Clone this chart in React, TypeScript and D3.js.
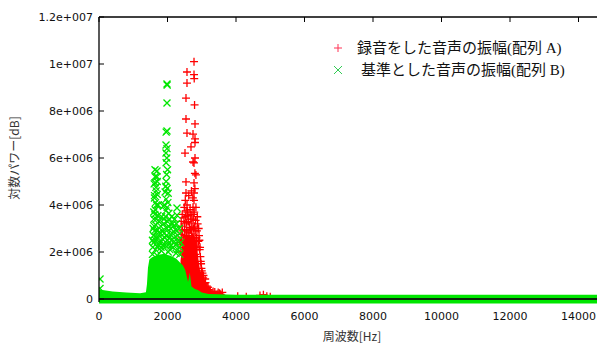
import * as d3 from "d3";

// --- data ---
const xTicks = [0, 2000, 4000, 6000, 8000, 10000, 12000, 14000];
const yTicks = [0, 2e6, 4e6, 6e6, 8e6, 1e7, 1.2e7];
const yTickLabels = ["0", "2e+006", "4e+006", "6e+006", "8e+006", "1e+007", "1.2e+007"];

const seriesNames = ["録音をした音声の振幅(配列 A)", "基準とした音声の振幅(配列 B)"];

// dense core of array A, where the + markers overlap into a solid mass
const denseA: [number, number][] = [
  [2370, 0], [2380, 1.5e6], [2420, 2.0e6], [2480, 2.4e6], [2560, 2.6e6], [2650, 2.5e6],
  [2750, 2.7e6], [2850, 2.3e6], [2900, 1.6e6], [2950, 1.1e6], [3050, 8e5], [3150, 4.5e5],
  [3250, 2.5e5], [3400, 1.3e5], [3600, 6e4], [3650, 0],
];

// dense core of array B (incl. the low floor running over the whole range)
const denseB: [number, number][] = [
  [0, 2.8e5], [150, 2.4e5], [400, 1.9e5], [800, 1.5e5], [1200, 1.2e5], [1370, 1.6e5],
  [1400, 5e5], [1430, 1.2e6], [1470, 1.55e6], [1550, 1.65e6], [1700, 1.75e6], [1900, 1.8e6],
  [2100, 1.7e6], [2250, 1.6e6], [2350, 1.45e6], [2450, 1.3e6], [2520, 1.1e6], [2600, 6e5],
  [2650, 1.0e6], [2700, 4e5], [2800, 3e5], [2900, 2.5e5], [3000, 1.5e5], [3200, 8e4],
  [4000, 5e4], [16000, 5e4],
];

const pointsA: [number, number][] = [
  [2774, 1.01e7], [2569, 9.66e6], [2774, 9.55e6], [2780, 9.38e6], [2569, 9.19e6], [2540, 8.55e6],
  [2790, 8.26e6], [2540, 7.66e6], [2803, 7.45e6], [2569, 7.06e6], [2745, 7.02e6], [2803, 6.81e6],
  [2803, 6.66e6], [2686, 6.47e6], [2511, 6.21e6], [2803, 6.0e6], [2745, 5.83e6], [2774, 5.79e6],
  [2800, 5.35e6], [2830, 5.28e6], [2540, 4.98e6], [2774, 4.94e6], [2540, 4.51e6], [2774, 4.51e6],
  [2774, 4.2e6], [2745, 3.9e6], [2540, 3.75e6], [2745, 3.6e6], [2600, 3.55e6], [2480, 3.45e6],
  [2680, 3.4e6], [2820, 3.35e6], [2560, 3.25e6], [2880, 3.2e6], [2420, 3.1e6], [2640, 3.05e6],
  [2760, 3.0e6], [2500, 2.95e6], [2860, 2.9e6], [2600, 2.85e6], [2700, 2.8e6], [2400, 2.75e6],
  [2920, 2.7e6], [2550, 2.65e6], [2800, 2.6e6], [2460, 2.5e6], [2650, 2.5e6], [2900, 2.45e6],
  [2380, 2.4e6], [2720, 2.35e6], [2580, 2.3e6], [2840, 2.25e6], [2470, 2.2e6], [2940, 2.1e6],
  [2680, 2.1e6], [2960, 1.8e6], [2980, 1.5e6], [3000, 1.2e6], [3050, 1.0e6], [3100, 8.5e5],
  [3080, 6.5e5], [3150, 5.5e5], [3200, 4e5], [3250, 3.2e5], [3300, 2.5e5], [3380, 3e5],
  [3450, 2e5], [3520, 2.5e5], [3580, 1.5e5], [4050, 1.2e5], [4300, 1e5], [4700, 1.5e5],
  [4800, 1.8e5], [4900, 1.2e5], [5000, 1e5],
  [2390, 2.0e6], [2400, 3.3e6], [2410, 2.6e6], [2430, 3.6e6], [2440, 2.9e6], [2450, 2.3e6],
  [2490, 3.9e6], [2500, 3.2e6], [2510, 2.7e6], [2520, 4.2e6], [2530, 3.5e6], [2560, 2.9e6],
  [2570, 4.0e6], [2580, 3.7e6], [2590, 2.5e6], [2610, 3.3e6], [2620, 4.4e6], [2630, 2.7e6],
  [2660, 3.8e6], [2670, 2.95e6], [2690, 3.6e6], [2700, 4.6e6], [2710, 3.2e6], [2730, 2.6e6],
  [2740, 4.3e6], [2750, 3.4e6], [2760, 2.4e6], [2780, 3.7e6], [2790, 3.1e6], [2800, 4.7e6],
  [2810, 2.9e6], [2830, 3.9e6], [2850, 2.6e6], [2870, 3.5e6], [2890, 2.2e6], [2910, 3.0e6],
  [2930, 2.5e6], [2950, 2.2e6], [2970, 1.6e6], [2990, 1.3e6], [3020, 1.1e6], [3040, 9e5],
  [3110, 7e5], [3130, 4.5e5], [3180, 5e5], [3220, 3e5], [3270, 2.2e5], [3330, 3.2e5],
  [3400, 1.8e5], [3480, 2.8e5], [3550, 2e5], [3600, 2.8e5], [2620, 1.9e6], [2720, 1.95e6],
  [2820, 1.9e6],
];

const pointsB: [number, number][] = [
  [1985, 9.15e6], [1990, 9.1e6], [1985, 8.34e6], [1985, 7.15e6], [1960, 7.1e6], [1956, 6.55e6],
  [1985, 6.4e6], [1956, 6.21e6], [1635, 5.5e6], [1693, 5.45e6], [1640, 5.2e6], [1700, 5.0e6],
  [1960, 5.0e6], [1610, 4.9e6], [1660, 4.75e6], [1990, 4.7e6], [1930, 4.55e6], [1700, 4.45e6],
  [1620, 4.3e6], [1960, 4.25e6], [2010, 4.1e6], [1680, 4.0e6], [1880, 3.95e6], [2277, 3.87e6],
  [1640, 3.8e6], [1950, 3.75e6], [2040, 3.65e6], [2277, 3.57e6], [1720, 3.55e6], [1600, 3.4e6],
  [1900, 3.4e6], [2000, 3.3e6], [2150, 3.2e6], [1660, 3.15e6], [1800, 3.1e6], [1980, 3.0e6],
  [2230, 2.95e6], [1620, 2.9e6], [1760, 2.85e6], [1900, 2.8e6], [2080, 2.75e6], [2300, 2.7e6],
  [1680, 2.6e6], [1850, 2.55e6], [2000, 2.5e6], [2200, 2.45e6], [1600, 2.4e6], [1740, 2.3e6],
  [1930, 2.3e6], [2100, 2.25e6], [2350, 2.2e6], [1650, 2.1e6], [1820, 2.05e6], [2020, 2.0e6],
  [2250, 1.95e6], [1560, 1.9e6], [1700, 1.85e6], [30, 8.5e5], [30, 4.5e5],
  [1570, 2.2e6], [1590, 2.7e6], [1610, 3.1e6], [1630, 3.6e6], [1650, 4.1e6], [1670, 4.6e6],
  [1690, 5.2e6], [1560, 2.5e6], [1580, 3.0e6], [1600, 3.7e6], [1620, 4.4e6], [1640, 4.95e6],
  [1710, 2.2e6], [1730, 2.6e6], [1750, 3.3e6], [1770, 2.4e6], [1790, 2.8e6], [1810, 2.2e6],
  [1830, 3.5e6], [1850, 2.9e6], [1870, 2.3e6], [1890, 3.2e6], [1910, 4.0e6], [1920, 2.6e6],
  [1940, 3.5e6], [1950, 4.8e6], [1970, 2.7e6], [1975, 5.3e6], [1990, 3.9e6], [2000, 5.5e6],
  [2010, 2.3e6], [2020, 4.5e6], [2030, 3.1e6], [2050, 2.6e6], [2060, 3.4e6], [2070, 2.1e6],
  [2090, 3.0e6], [2110, 2.5e6], [2120, 3.5e6], [2140, 2.8e6], [2160, 2.2e6], [2180, 3.1e6],
  [2190, 2.6e6], [2210, 3.4e6], [2240, 2.3e6], [2260, 3.2e6], [2280, 2.9e6], [2300, 2.1e6],
  [2320, 2.5e6], [2340, 3.0e6], [2360, 1.9e6], [2380, 2.4e6], [1670, 3.4e6], [1690, 2.9e6],
  [1650, 2.5e6], [1725, 4.0e6], [1960, 5.8e6], [1980, 6.0e6],
];

const RED = "#ff0000";
const GREEN = "#00e600";

const plusPath = "M-4,0H4M0,-4V4";
const crossPath = "M-3.5,-3.5L3.5,3.5M-3.5,3.5L3.5,-3.5";

export default function App() {
  const W = 597;
  const H = 345;
  const left = 99;
  const top = 17;
  const bottom = 299;

  const x = d3.scaleLinear().domain([0, 16000]).range([left, left + 16000 * 0.03425]);
  const y = d3.scaleLinear().domain([0, 1.2e7]).range([bottom, top]);

  const areaA = d3
    .area<[number, number]>()
    .x((d) => x(d[0]))
    .y0(y(0))
    .y1((d) => y(d[1]) - 3);
  const areaB = d3
    .area<[number, number]>()
    .x((d) => x(d[0]))
    .y0(y(0) + 4.5)
    .y1((d) => y(d[1]) - 3);

  const tickFont = { fontFamily: "'DejaVu Sans', sans-serif", fontSize: 11, fill: "#111" };
  const legendFont = { fontFamily: "'Liberation Serif', 'Noto Sans CJK JP', serif", fontSize: 15, fill: "#111" };
  const labelFont = { fontFamily: "'Noto Sans CJK JP', sans-serif", fontSize: 12, fill: "#333" };

  return (
    <svg width={W} height={H} style={{ position: "absolute", left: 0, top: 0, background: "#fff" }}>
      <defs>
        <clipPath id="plot">
          <rect x={left} y={top} width={W - left} height={bottom - top + 6} />
        </clipPath>
      </defs>

      <g clipPath="url(#plot)">
        <path d={areaA(denseA) ?? ""} fill={RED} />
        <g stroke={RED} strokeWidth={1.3} fill="none">
          {pointsA.map((d, i) => (
            <path key={i} d={plusPath} transform={`translate(${x(d[0])},${y(d[1])})`} />
          ))}
        </g>
        <path d={areaB(denseB) ?? ""} fill={GREEN} />
        <g stroke={GREEN} strokeWidth={1.3} fill="none">
          {pointsB.map((d, i) => (
            <path key={i} d={crossPath} transform={`translate(${x(d[0])},${y(d[1])})`} />
          ))}
        </g>
        <line x1={left} x2={W} y1={y(0)} y2={y(0)} stroke="#0b2a0b" strokeWidth={2} />
      </g>

      {/* border */}
      <line x1={left} x2={left} y1={top} y2={y(0) + 3} stroke="#000" strokeWidth={1.3} />
      <line x1={left} x2={W} y1={top} y2={top} stroke="#000" strokeWidth={1.3} />

      {/* y axis */}
      {yTicks.map((t, i) => (
        <g key={t}>
          <line x1={left} x2={left + 5} y1={y(t)} y2={y(t)} stroke="#000" />
          <text x={left - 6} y={y(t)} dy="0.35em" textAnchor="end" {...tickFont}>
            {yTickLabels[i]}
          </text>
        </g>
      ))}

      {/* x axis */}
      {[...xTicks, 16000].map((t) => (
        <line key={t} x1={x(t)} x2={x(t)} y1={top} y2={top + 5} stroke="#000" />
      ))}
      {xTicks.map((t) => (
        <text key={t} x={x(t)} y={320} textAnchor="middle" {...tickFont}>
          {t}
        </text>
      ))}

      <text x={352} y={341} textAnchor="middle" {...labelFont}>
        周波数[Hz]
      </text>
      <text transform="translate(19,158) rotate(-90)" textAnchor="middle" {...labelFont}>
        対数パワー[dB]
      </text>

      {/* legend */}
      <path d="M-4,0H4M0,-4V4" transform="translate(338,48)" stroke="#ff3355" strokeWidth={1} />
      <text x={357} y={53} {...legendFont}>
        {seriesNames[0]}
      </text>
      <path d="M-4,-4L4,4M-4,4L4,-4" transform="translate(338,70)" stroke="#33cc55" strokeWidth={1} />
      <text x={361} y={75} {...legendFont}>
        {seriesNames[1]}
      </text>
    </svg>
  );
}
